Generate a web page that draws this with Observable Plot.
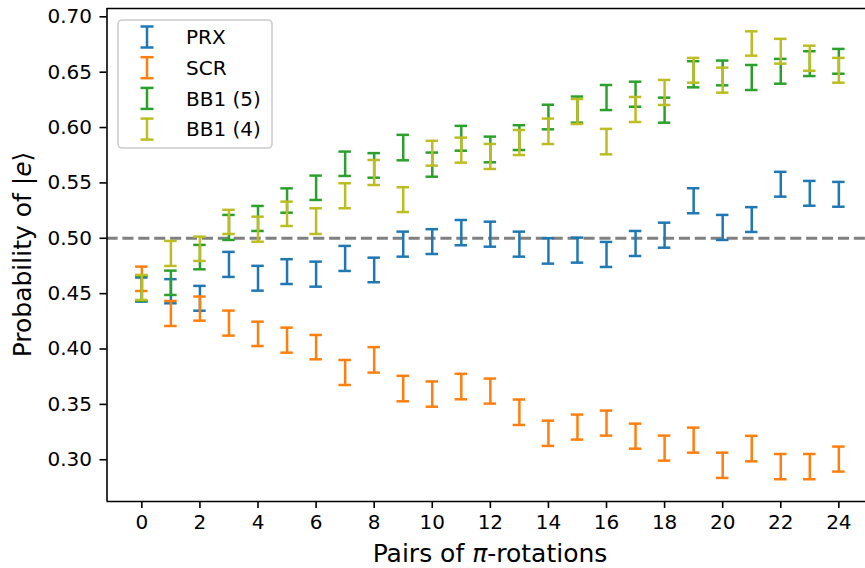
<!DOCTYPE html>
<html>
<head>
<meta charset="utf-8">
<script src="https://cdn.jsdelivr.net/npm/d3@7"></script>
<script src="https://cdn.jsdelivr.net/npm/@observablehq/plot@0.6"></script>
<style>
  html, body { margin: 0; padding: 0; background: #fff; }
  #chart { width: 865px; height: 568px; overflow: hidden; }
  svg { font-family: "DejaVu Sans", sans-serif; }
</style>
</head>
<body>
<div id="chart"></div>
<script>
// ---- Data ----
const pairs = [0,1,2,3,4,5,6,7,8,9,10,11,12,13,14,15,16,17,18,19,20,21,22,23,24];
const xTicks = [0,2,4,6,8,10,12,14,16,18,20,22,24];
const yTicks = [0.30,0.35,0.40,0.45,0.50,0.55,0.60,0.65,0.70];

const seriesNames = ["PRX", "SCR", "BB1 (5)", "BB1 (4)"];
const seriesColors = ["#1f77b4", "#ff7f0e", "#2ca02c", "#bcbd22"];

const prxMean = [0.4537,0.4522,0.4458,0.4764,0.4639,0.4699,0.4676,0.4818,0.4714,0.4947,0.4970,0.5051,0.5037,0.4947,0.4886,0.4893,0.4854,0.4953,0.5028,0.5339,0.5098,0.5169,0.5488,0.5406,0.5397];
const prxErr  = [0.0109,0.0109,0.0112,0.0113,0.0112,0.0112,0.0113,0.0113,0.0111,0.0113,0.0112,0.0114,0.0113,0.0113,0.0115,0.0113,0.0113,0.0113,0.0113,0.0113,0.0113,0.0112,0.0112,0.0112,0.0112];

const scrMean = [0.4634,0.4321,0.4365,0.4234,0.4137,0.4080,0.4017,0.3788,0.3902,0.3643,0.3593,0.3661,0.3620,0.3429,0.3239,0.3295,0.3331,0.3213,0.3105,0.3177,0.2950,0.3101,0.2938,0.2938,0.3006];
const scrErr  = [0.0110,0.0113,0.0109,0.0113,0.0110,0.0113,0.0110,0.0113,0.0115,0.0115,0.0114,0.0115,0.0113,0.0115,0.0114,0.0113,0.0113,0.0113,0.0113,0.0113,0.0114,0.0115,0.0114,0.0114,0.0113];

const bb15Mean = [0.4548,0.4598,0.4830,0.5098,0.5179,0.5341,0.5456,0.5673,0.5658,0.5819,0.5665,0.5903,0.5802,0.5909,0.6095,0.6162,0.6271,0.6301,0.6157,0.6481,0.6493,0.6452,0.6508,0.6577,0.6598];
const bb15Err  = [0.0113,0.0110,0.0110,0.0113,0.0113,0.0110,0.0110,0.0110,0.0111,0.0115,0.0109,0.0112,0.0116,0.0112,0.0111,0.0118,0.0113,0.0113,0.0113,0.0118,0.0112,0.0113,0.0112,0.0112,0.0112];

const bb14Mean = [0.4556,0.4863,0.4905,0.5148,0.5082,0.5221,0.5155,0.5384,0.5594,0.5349,0.5768,0.5796,0.5739,0.5865,0.5966,0.6145,0.5873,0.6163,0.6317,0.6517,0.6428,0.6759,0.6689,0.6626,0.6517];
const bb14Err  = [0.0113,0.0113,0.0110,0.0109,0.0113,0.0110,0.0116,0.0113,0.0113,0.0112,0.0112,0.0113,0.0113,0.0113,0.0115,0.0113,0.0115,0.0113,0.0113,0.0112,0.0113,0.0110,0.0112,0.0113,0.0112];

const refLevel = 0.5;

// ---- Build table ----
const means = [prxMean, scrMean, bb15Mean, bb14Mean];
const errs = [prxErr, scrErr, bb15Err, bb14Err];
const rowsBySeries = seriesNames.map((name, s) =>
  pairs.map((x, i) => ({series: name, x, y: means[s][i], lo: means[s][i] - errs[s][i], hi: means[s][i] + errs[s][i]}))
);

const xDomain = [-1.2, 25.2];
const yDomain = [0.2623, 0.7075];
const capHalf = 0.215; // cap half-width in x units
const lw = 2.5;

const marks = [
  Plot.ruleY([refLevel], {stroke: "#808080", strokeWidth: 3, strokeDasharray: "11.1,4.8"})
];
rowsBySeries.forEach((rows, s) => {
  const c = seriesColors[s];
  marks.push(
    Plot.ruleX(rows, {x: "x", y1: "lo", y2: "hi", stroke: c, strokeWidth: lw}),
    Plot.ruleY(rows, {y: "hi", x1: d => d.x - capHalf, x2: d => d.x + capHalf, stroke: c, strokeWidth: lw}),
    Plot.ruleY(rows, {y: "lo", x1: d => d.x - capHalf, x2: d => d.x + capHalf, stroke: c, strokeWidth: lw})
  );
});
marks.push(
  Plot.ruleX([xDomain[0]], {stroke: "#000", strokeWidth: 1.6}),
  Plot.ruleY([yDomain[0], yDomain[1]], {stroke: "#000", strokeWidth: 1.6}),
  Plot.axisX({ticks: xTicks, tickSize: 7, tickPadding: 6, strokeWidth: 1.6, label: null, fontSize: 20, tickFormat: d => String(d)}),
  Plot.axisY({ticks: yTicks, tickSize: 7, tickPadding: 8, strokeWidth: 1.6, label: null, fontSize: 20, tickFormat: d => d.toFixed(2)})
);

const chart = Plot.plot({
  width: 865,
  height: 568,
  marginLeft: 106.5,
  marginTop: 8,
  marginBottom: 67,
  marginRight: 0,
  x: {domain: xDomain, range: [106.5, 873.2]},
  y: {domain: yDomain, range: [501, 8]},
  style: {fontFamily: "DejaVu Sans, sans-serif", fontSize: "20px", color: "#000", background: "#fff"},
  marks
});
document.getElementById("chart").appendChild(chart);

// ---- Axis labels and legend ----
const svg = d3.select(chart);
const xl = svg.append("text")
  .attr("x", 490).attr("y", 562)
  .attr("text-anchor", "middle")
  .attr("font-size", 25).attr("fill", "#000");
xl.append("tspan").text("Pairs of ");
xl.append("tspan").attr("font-style", "italic").text("π");
xl.append("tspan").text("-rotations");

const yl = svg.append("text")
  .attr("transform", "translate(31,254.5) rotate(-90)")
  .attr("text-anchor", "middle")
  .attr("font-size", 25).attr("fill", "#000");
yl.append("tspan").text("Probability of |");
yl.append("tspan").attr("font-style", "italic").text("e");
yl.append("tspan").text("⟩");

const lg = svg.append("g");
lg.append("rect")
  .attr("x", 118).attr("y", 20).attr("width", 154).attr("height", 128)
  .attr("rx", 4).attr("fill", "#fff").attr("fill-opacity", 0.8)
  .attr("stroke", "#cccccc").attr("stroke-width", 1.6);
seriesNames.forEach((name, i) => {
  const cy = 37 + i * 30.7;
  const c = seriesColors[i];
  const g = lg.append("g");
  g.append("line").attr("x1", 147).attr("x2", 147).attr("y1", cy - 10.5).attr("y2", cy + 10.5).attr("stroke", c).attr("stroke-width", lw);
  g.append("line").attr("x1", 140.5).attr("x2", 153.5).attr("y1", cy - 10.5).attr("y2", cy - 10.5).attr("stroke", c).attr("stroke-width", lw);
  g.append("line").attr("x1", 140.5).attr("x2", 153.5).attr("y1", cy + 10.5).attr("y2", cy + 10.5).attr("stroke", c).attr("stroke-width", lw);
  g.append("text").attr("x", 186).attr("y", cy + 7.3).attr("text-anchor", "start").attr("font-size", 20).attr("fill", "#000").text(name);
});
</script>
</body>
</html>
